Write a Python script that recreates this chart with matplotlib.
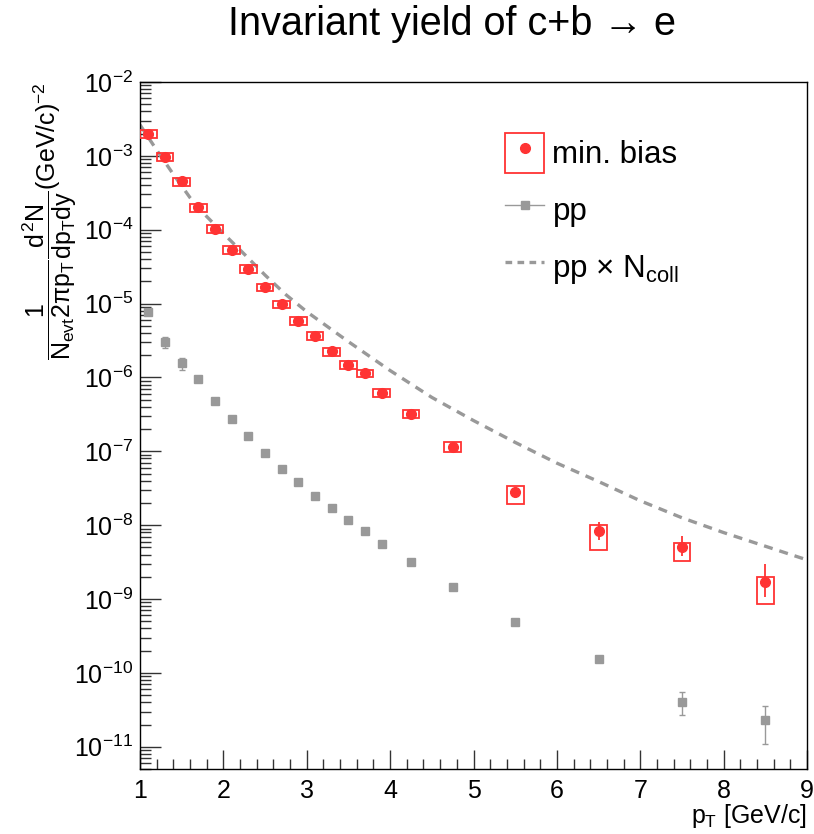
import numpy as np
import matplotlib
matplotlib.use("Agg")
import matplotlib.pyplot as plt
from matplotlib.patches import Rectangle
from matplotlib.lines import Line2D
from matplotlib.legend_handler import HandlerTuple
from matplotlib.ticker import LogLocator, NullFormatter, MultipleLocator

# -----------------------------
# FONTS (ROOT-like Helvetica look)
# -----------------------------
plt.rcParams["font.family"] = ["Liberation Sans", "DejaVu Sans"]
plt.rcParams["mathtext.fontset"] = "custom"
plt.rcParams["mathtext.rm"] = "Liberation Sans"
plt.rcParams["mathtext.it"] = "Liberation Sans"
plt.rcParams["mathtext.bf"] = "Liberation Sans:bold"
plt.rcParams["mathtext.sf"] = "Liberation Sans"

# -----------------------------
# DATA
# -----------------------------
pt = [1.1, 1.3, 1.5, 1.7, 1.9, 2.1, 2.3, 2.5, 2.7, 2.9, 3.1,
      3.3, 3.5, 3.7, 3.9, 4.25, 4.75, 5.5, 6.5, 7.5, 8.5]

# min. bias c+b -> e yield
mb = [1.98e-3, 9.8e-4, 4.5e-4, 2.0e-4, 1.02e-4, 5.3e-5, 2.95e-5,
      1.67e-5, 9.8e-6, 5.8e-6, 3.66e-6, 2.25e-6, 1.48e-6, 1.14e-6,
      6.25e-7, 3.2e-7, 1.16e-7, 2.85e-8, 8.4e-9, 5.1e-9, 1.68e-9]
# relative stat. errors (down, up)
mb_stat_lo = [0.02, 0.02, 0.02, 0.02, 0.02, 0.02, 0.02, 0.03, 0.03, 0.03, 0.03,
              0.03, 0.04, 0.04, 0.04, 0.05, 0.06, 0.10, 0.25, 0.26, 0.37]
mb_stat_hi = [0.02, 0.02, 0.02, 0.02, 0.02, 0.02, 0.02, 0.03, 0.03, 0.03, 0.03,
              0.03, 0.04, 0.04, 0.04, 0.05, 0.06, 0.10, 0.30, 0.41, 0.76]
# relative syst. errors (down, up) -> boxes
mb_sys_lo = [0.12, 0.12, 0.12, 0.12, 0.12, 0.12, 0.12, 0.12, 0.12, 0.12, 0.12,
             0.12, 0.12, 0.12, 0.12, 0.13, 0.15, 0.32, 0.45, 0.35, 0.49]
mb_sys_hi = [0.12, 0.12, 0.12, 0.12, 0.12, 0.12, 0.12, 0.12, 0.12, 0.12, 0.12,
             0.12, 0.12, 0.12, 0.12, 0.13, 0.15, 0.18, 0.20, 0.13, 0.18]
box_halfwidth = 0.1

# pp reference
pp = [7.64e-6, 3.06e-6, 1.56e-6, 9.6e-7, 4.8e-7, 2.74e-7, 1.62e-7,
      9.5e-8, 5.8e-8, 3.9e-8, 2.52e-8, 1.73e-8, 1.18e-8, 8.3e-9,
      5.6e-9, 3.2e-9, 1.47e-9, 4.93e-10, 1.56e-10, 4.03e-11, 2.3e-11]
pp_err_lo = [0.08, 0.18, 0.19, 0.05, 0.05, 0.05, 0.05, 0.05, 0.05, 0.05, 0.05,
             0.05, 0.05, 0.05, 0.05, 0.05, 0.05, 0.06, 0.08, 0.34, 0.53]
pp_err_hi = [0.08, 0.15, 0.19, 0.05, 0.05, 0.05, 0.05, 0.05, 0.05, 0.05, 0.05,
             0.05, 0.05, 0.05, 0.05, 0.05, 0.05, 0.06, 0.08, 0.35, 0.53]

# pp x Ncoll curve
ncoll_pt = [1.0, 1.2, 1.4, 1.6, 1.8, 2.0, 2.25, 2.5, 2.75, 3.0, 3.5,
            4.0, 4.5, 5.0, 5.5, 6.0, 6.5, 7.0, 7.5, 8.0, 8.5, 9.0]
ncoll_val = [2.63e-3, 1.20e-3, 5.62e-4, 2.72e-4, 1.51e-4, 8.9e-5, 4.68e-5,
             2.43e-5, 1.32e-5, 7.76e-6, 3.05e-6, 1.24e-6, 5.37e-7, 2.61e-7,
             1.32e-7, 6.92e-8, 3.90e-8, 2.14e-8, 1.26e-8, 7.94e-9, 5.19e-9,
             3.39e-9]

RED = "#ff3333"
GRAY = "#999999"

# -----------------------------
# FIGURE
# -----------------------------
fig = plt.figure(figsize=(8.14, 8.34), dpi=100)
ax = fig.add_axes([140 / 814, 65 / 834, 667 / 814, 687 / 834])

pt_a = np.array(pt)
mb_a = np.array(mb)
pp_a = np.array(pp)

# systematic boxes
for x, y, lo, hi in zip(pt, mb, mb_sys_lo, mb_sys_hi):
    ax.add_patch(Rectangle((x - box_halfwidth, y * (1 - lo)), 2 * box_halfwidth,
                           y * (1 + hi) - y * (1 - lo),
                           fill=False, ec=RED, lw=1.3, zorder=3))

ax.errorbar(pt_a, mb_a,
            yerr=[mb_a * np.array(mb_stat_lo), mb_a * np.array(mb_stat_hi)],
            fmt="o", color=RED, ms=7, elinewidth=1.3, capsize=0, zorder=4)

ax.errorbar(pt_a, pp_a,
            yerr=[pp_a * np.array(pp_err_lo), pp_a * np.array(pp_err_hi)],
            fmt="s", color=GRAY, ms=5.5, elinewidth=1, capsize=2.5,
            capthick=1, zorder=4)

ax.plot(ncoll_pt, ncoll_val, color=GRAY, lw=2.4, dashes=(2.7, 2.1), zorder=2)

# -----------------------------
# AXES
# -----------------------------
ax.set_yscale("log")
ax.set_xlim(1, 9)
ax.set_ylim(5e-12, 1e-2)

ax.yaxis.set_major_locator(LogLocator(base=10, numticks=30))
ax.yaxis.set_minor_locator(LogLocator(base=10, subs=np.arange(2, 10), numticks=30))
ax.yaxis.set_minor_formatter(NullFormatter())
ax.xaxis.set_major_locator(MultipleLocator(1))
ax.xaxis.set_minor_locator(MultipleLocator(0.2))

ax.tick_params(which="both", direction="in", top=False, right=False,
               labelsize=18, color="#333333")
ax.tick_params(axis="y", which="major", length=15, width=1, pad=5)
ax.tick_params(axis="y", which="minor", length=8, width=1)
ax.tick_params(axis="x", which="major", length=13.7, width=1, pad=7)
ax.tick_params(axis="x", which="minor", length=7, width=1)
for s in ax.spines.values():
    s.set_linewidth(1)

# -----------------------------
# TEXT
# -----------------------------
fig.text(451.5 / 814, 1 - 35 / 834, "Invariant yield of c+b \u2192 e",
         ha="center", va="baseline", fontsize=28.5)

fig.text(50 / 814, 1 - 82 / 834,
         r"$\dfrac{1}{N_{evt}2\pi p_{T}}\dfrac{d^{2}N}{dp_{T}dy}(GeV/c)^{-2}$",
         rotation=90, ha="center", va="top", fontsize=18)

fig.text(807 / 814, 1 - 823 / 834, r"$p_{T}$ [GeV/c]",
         ha="right", va="baseline", fontsize=18)

# -----------------------------
# LEGEND
# -----------------------------
h_mb = (Rectangle((0, 0), 1, 1, fill=False, ec=RED, lw=1.3),
        Line2D([], [], ls="none", marker="o", color=RED, ms=7))
h_pp = Line2D([], [], color=GRAY, lw=1, marker="s", ms=5.5)
h_nc = Line2D([], [], color=GRAY, lw=2.4, dashes=(2.0, 1.6))

ax.legend([h_mb, h_pp, h_nc],
          ["min. bias", "pp", "pp \u00d7 N$_{coll}$"],
          handler_map={tuple: HandlerTuple(ndivide=1, pad=0)},
          loc="upper left", bbox_to_anchor=(505 / 814, 1 - 133 / 834),
          bbox_transform=fig.transFigure, frameon=False, fontsize=22.5,
          handlelength=1.26, handleheight=1.59, handletextpad=0.26,
          labelspacing=0.54, borderpad=0, borderaxespad=0, numpoints=1)

fig.savefig("out.png", dpi=100)
